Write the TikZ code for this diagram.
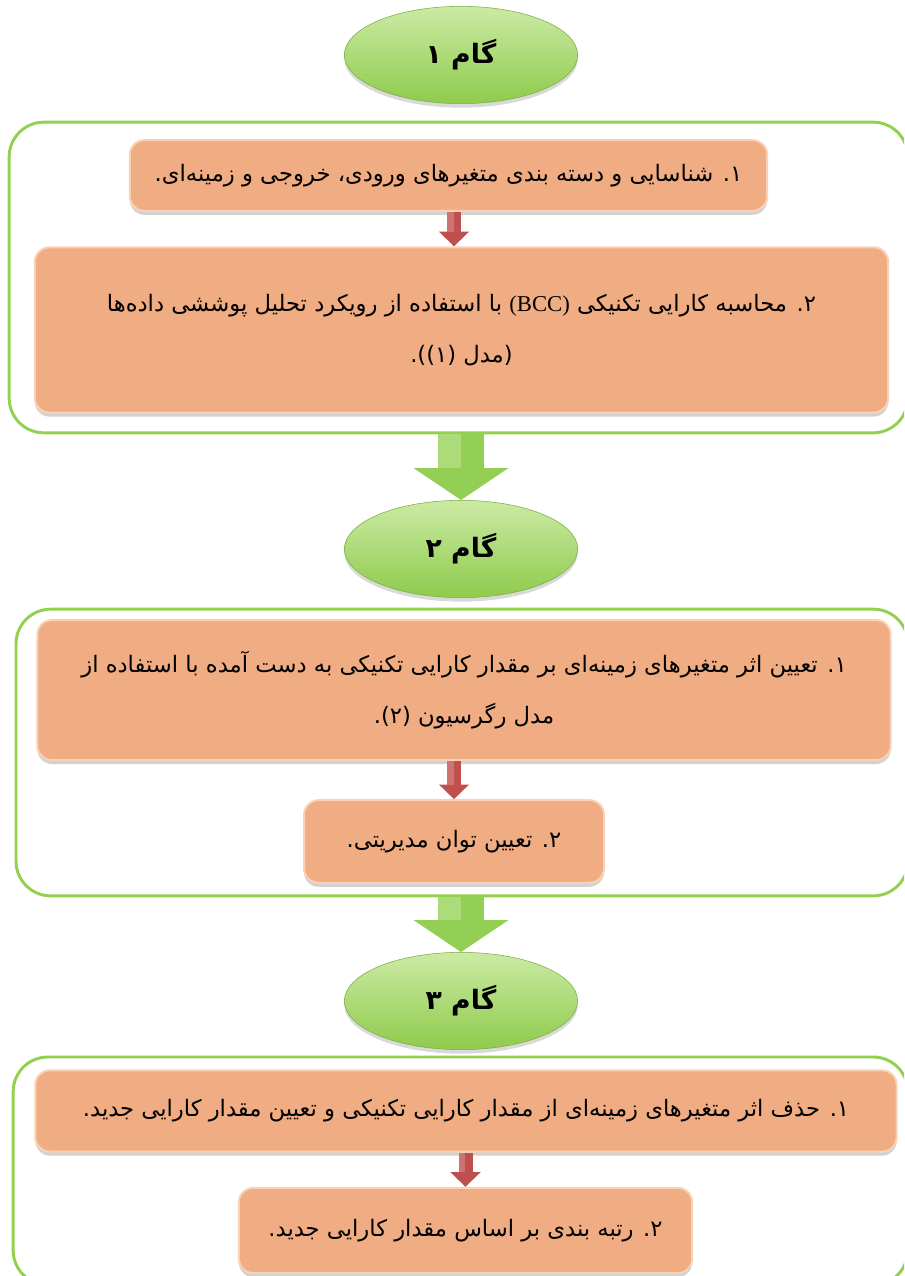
\documentclass[tikz,border=0pt]{standalone}
\usepackage{fontspec}
\newfontfamily\fa[Script=Arabic]{DejaVu Sans}
\newfontfamily\lat{Liberation Serif}
\TeXXeTstate=1
\usetikzlibrary{shapes.geometric,arrows.meta,positioning,shadows}

\definecolor{steplight}{HTML}{CBEAA4}
\definecolor{stepgreen}{HTML}{8FCB4C}
\definecolor{arrgreen}{HTML}{94CF55}
\definecolor{arrlight}{HTML}{AEDB7A}
\definecolor{framegreen}{HTML}{92D050}
\definecolor{taskfill}{HTML}{F0AC82}
\definecolor{taskedge}{HTML}{F9D2B4}
\definecolor{redtip}{HTML}{C0504D}

\begin{document}
\begin{tikzpicture}[x=0.75pt, y=-0.75pt,
  stage/.style={ellipse, minimum width=175pt, minimum height=73pt,
                top color=steplight, bottom color=stepgreen,
                draw=stepgreen!85!black, line width=0.4pt,
                drop shadow={shadow xshift=0pt, shadow yshift=-3pt, opacity=0.3},
                font=\fa\bfseries\fontsize{20}{24}\selectfont},
  frame/.style={rectangle, rounded corners=26pt, draw=framegreen,
                line width=2.2pt, fill=white},
  task/.style={rectangle, rounded corners=11pt, fill=taskfill,
               draw=taskedge, line width=1.5pt, align=center,
               drop shadow={shadow xshift=0pt, shadow yshift=-3pt, opacity=0.35},
               font=\fa\fontsize{17}{38}\selectfont},
  redarr/.style={draw=redtip, line width=10.5pt,
                 -{Triangle[length=11pt, width=22pt]},
                 postaction={draw=redtip!80!white, line width=5pt, -,
                             transform canvas={xshift=-2.6pt}, shorten >=11pt}},
  bigarr/.style={draw=arrgreen, line width=35pt,
                 -{Triangle[length=24pt, width=70pt]},
                 postaction={draw=arrlight, line width=17.5pt, -,
                             transform canvas={xshift=-8.75pt}, shorten >=24pt}}]
\useasboundingbox (0,0) rectangle (904,1276);
\clip (0,0) rectangle (904,1276);

% frames
\node[frame, minimum width=674pt, minimum height=233pt] (frame1) at (458.5,277.5) {};
\node[frame, minimum width=669pt, minimum height=215pt] (frame2) at (462,752.5) {};
\node[frame, minimum width=671pt, minimum height=171pt] (frame3) at (460.5,1171) {};

% stages
\node[stage] (stage1) at (461,55) {\beginR گام ۱\endR};
\node[stage] (stage2) at (461,549) {\beginR گام ۲\endR};
\node[stage] (stage3) at (461,1001) {\beginR گام ۳\endR};

% step 1
\node[task, minimum width=478pt, minimum height=53pt] (t1a) at (448.5,175.5)
  {\beginR ۱. شناسایی و دسته بندی متغیرهای ورودی، خروجی و زمینه^^^^200cای.\endR};
\node[task, minimum width=640pt, minimum height=124pt] (t1b) at (461.5,330)
  {\beginR ۲. محاسبه کارایی تکنیکی \beginL{\lat(BCC)}\endL{} با استفاده از رویکرد تحلیل پوششی داده^^^^200cها\endR\\
   \beginR (مدل (۱)).\endR};

% step 2
\node[task, minimum width=640pt, minimum height=105pt] (t2a) at (464,690)
  {\beginR ۱. تعیین اثر متغیرهای زمینه^^^^200cای بر مقدار کارایی تکنیکی به دست آمده با استفاده از\endR\\
   \beginR مدل رگرسیون (۲).\endR};
\node[task, minimum width=225pt, minimum height=62pt] (t2b) at (454,841.5)
  {\beginR ۲. تعیین توان مدیریتی.\endR};

% step 3
\node[task, minimum width=646pt, minimum height=61pt] (t3a) at (466,1111)
  {\beginR ۱. حذف اثر متغیرهای زمینه^^^^200cای از مقدار کارایی تکنیکی و تعیین مقدار کارایی جدید.\endR};
\node[task, minimum width=340pt, minimum height=64pt] (t3b) at (465.5,1230.5)
  {\beginR ۲. رتبه بندی بر اساس مقدار کارایی جدید.\endR};

\draw[redarr] (454,0 |- t1a.south) -- (454,0 |- t1b.north);
\draw[redarr] (t2b |- t2a.south) -- (t2b.north);
\draw[redarr] (t3b |- t3a.south) -- (t3b.north);
\draw[bigarr] (stage2 |- frame1.south) -- (stage2);
\draw[bigarr] (stage3 |- frame2.south) -- (stage3);
\end{tikzpicture}
\end{document}
